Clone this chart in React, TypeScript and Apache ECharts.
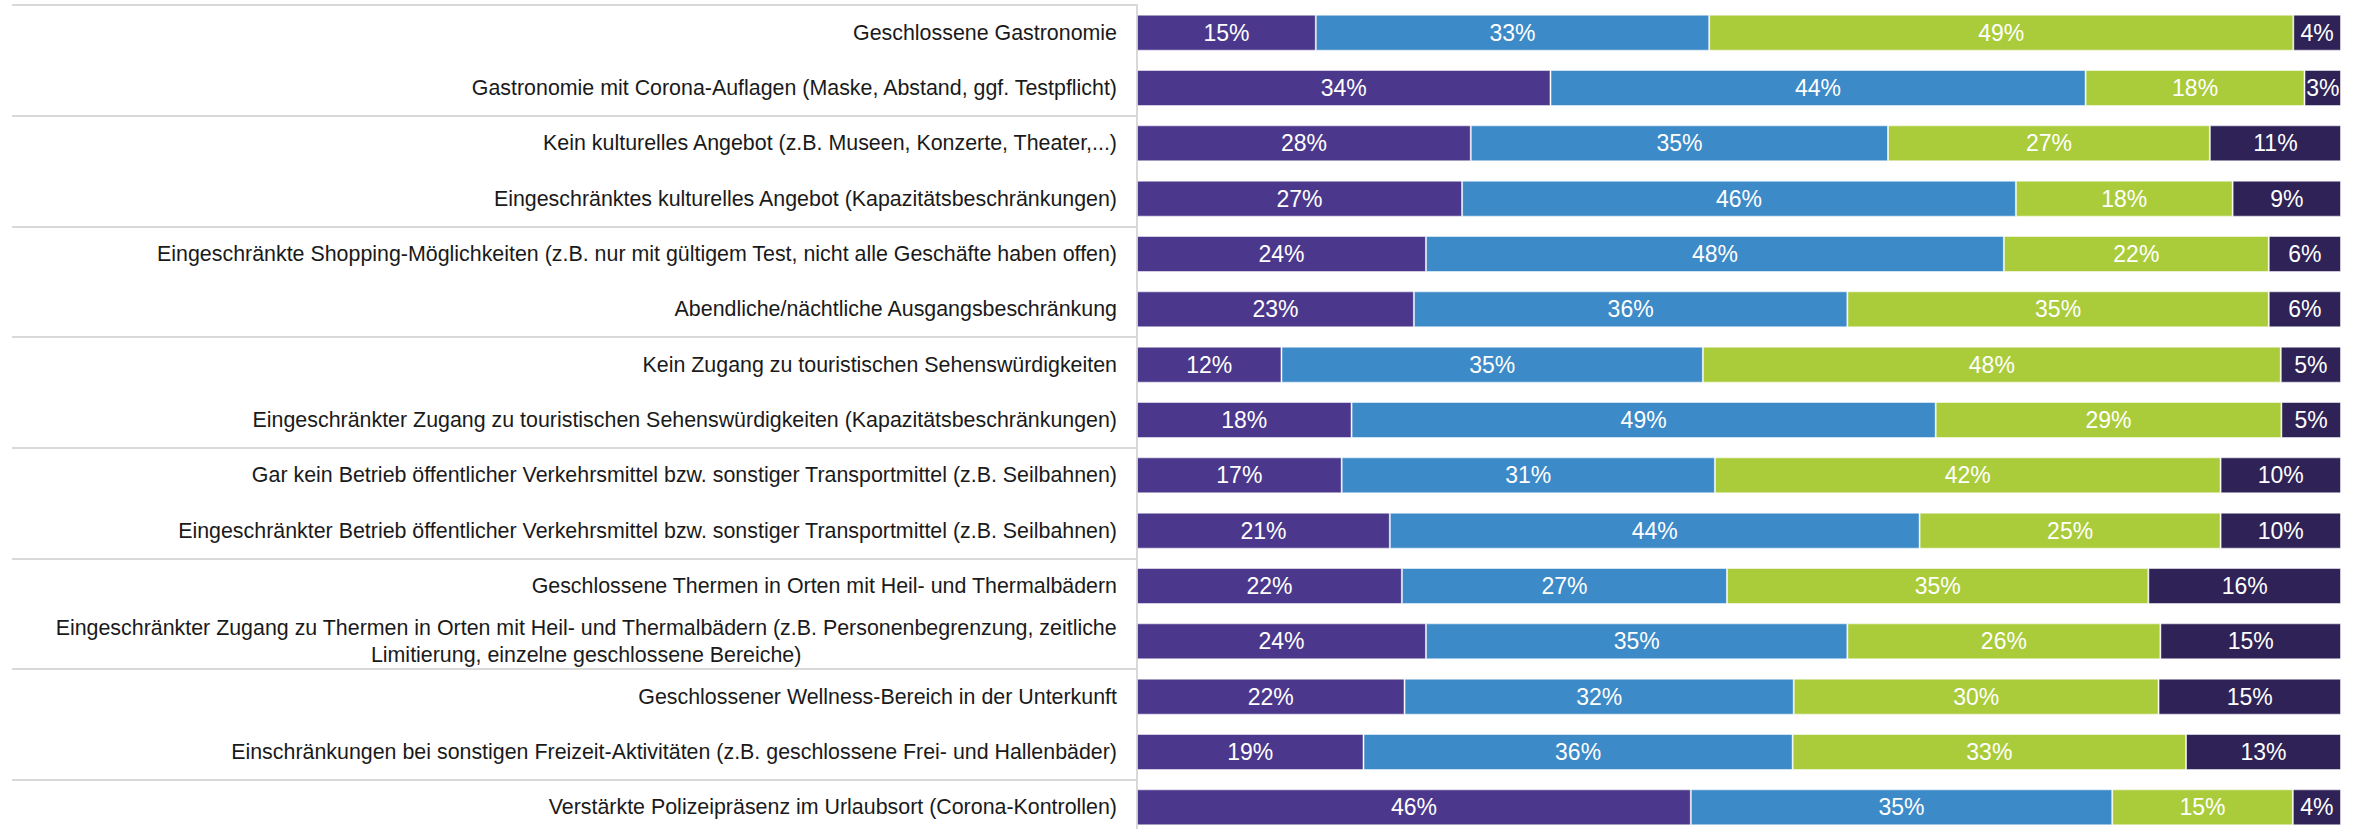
import React, { useEffect, useRef } from "react";
import * as echarts from "echarts";

const categories: string[] = [
  "Geschlossene Gastronomie",
  "Gastronomie mit Corona-Auflagen (Maske, Abstand, ggf. Testpflicht)",
  "Kein kulturelles Angebot (z.B. Museen, Konzerte, Theater,...)",
  "Eingeschränktes kulturelles Angebot (Kapazitätsbeschränkungen)",
  "Eingeschränkte Shopping-Möglichkeiten (z.B. nur mit gültigem Test, nicht alle Geschäfte haben offen)",
  "Abendliche/nächtliche Ausgangsbeschränkung",
  "Kein Zugang zu touristischen Sehenswürdigkeiten",
  "Eingeschränkter Zugang zu touristischen Sehenswürdigkeiten (Kapazitätsbeschränkungen)",
  "Gar kein Betrieb öffentlicher Verkehrsmittel bzw. sonstiger Transportmittel (z.B. Seilbahnen)",
  "Eingeschränkter Betrieb öffentlicher Verkehrsmittel bzw. sonstiger Transportmittel (z.B. Seilbahnen)",
  "Geschlossene Thermen in Orten mit Heil- und Thermalbädern",
  "Eingeschränkter Zugang zu Thermen in Orten mit Heil- und Thermalbädern (z.B. Personenbegrenzung, zeitliche\nLimitierung, einzelne geschlossene Bereiche)",
  "Geschlossener Wellness-Bereich in der Unterkunft",
  "Einschränkungen bei sonstigen Freizeit-Aktivitäten (z.B. geschlossene Frei- und Hallenbäder)",
  "Verstärkte Polizeipräsenz im Urlaubsort (Corona-Kontrollen)",
];

const series1: number[] = [15, 34, 28, 27, 24, 23, 12, 18, 17, 21, 22, 24, 22, 19, 46];
const series2: number[] = [33, 44, 35, 46, 48, 36, 35, 49, 31, 44, 27, 35, 32, 36, 35];
const series3: number[] = [49, 18, 27, 18, 22, 35, 48, 29, 42, 25, 35, 26, 30, 33, 15];
const series4: number[] = [4, 3, 11, 9, 6, 6, 5, 5, 10, 10, 16, 15, 15, 13, 4];

const seriesNames: string[] = ["Serie 1", "Serie 2", "Serie 3", "Serie 4"];
const colors: string[] = ["#4B388C", "#3C8AC8", "#AACC3A", "#2E2256"];

export default function App() {
  const ref = useRef<HTMLDivElement>(null);

  useEffect(() => {
    document.body.style.margin = "0";
    document.body.style.overflow = "hidden";
    if (!ref.current) return;
    const chart = echarts.init(ref.current, undefined, { renderer: "svg" });
    const raw = [series1, series2, series3, series4];
    const totals = categories.map((_, i) => raw.reduce((s, arr) => s + arr[i], 0));
    const font = "'Liberation Sans', Arial, sans-serif";

    const option: any = {
      animation: false,
      grid: { left: 1137, right: 20, top: 5, height: 830, containLabel: false },
      xAxis: { type: "value", min: 0, max: 100, show: false },
      yAxis: {
        type: "category",
        inverse: true,
        data: categories,
        axisLine: { show: true, lineStyle: { color: "#d9d9d9", width: 2 } },
        axisTick: {
          show: true,
          interval: 1,
          length: 1125,
          lineStyle: { color: "#d9d9d9", width: 2 },
        },
        axisLabel: {
          interval: 0,
          margin: 20,
          fontSize: 21.4,
          color: "#1a1a1a",
          fontFamily: font,
          align: "right",
          lineHeight: 27,
          formatter: (v: string) => {
            if (v.indexOf("\n") < 0) return v;
            const parts = v.split("\n");
            return parts.map((p) => "{c|" + p + "}").join("\n");
          },
          rich: {
            c: {
              align: "center",
              fontSize: 21.4,
              color: "#1a1a1a",
              fontFamily: font,
              lineHeight: 27,
            },
          },
        },
        splitLine: { show: false },
      },
      series: raw.map((arr, si) => ({
        name: seriesNames[si],
        type: "bar",
        stack: "total",
        barWidth: 36,
        data: arr.map((v, i) => (v / totals[i]) * 100),
        itemStyle: { color: colors[si], borderColor: "rgba(255,255,255,0.5)", borderWidth: 1 },
        label: {
          show: true,
          position: "inside",
          color: "#ffffff",
          fontSize: 23,
          fontFamily: font,
          formatter: (p: any) => raw[si][p.dataIndex] + "%",
        },
      })),
    };
    chart.setOption(option);
    return () => chart.dispose();
  }, []);

  return <div ref={ref} style={{ width: 2361, height: 840 }} />;
}
